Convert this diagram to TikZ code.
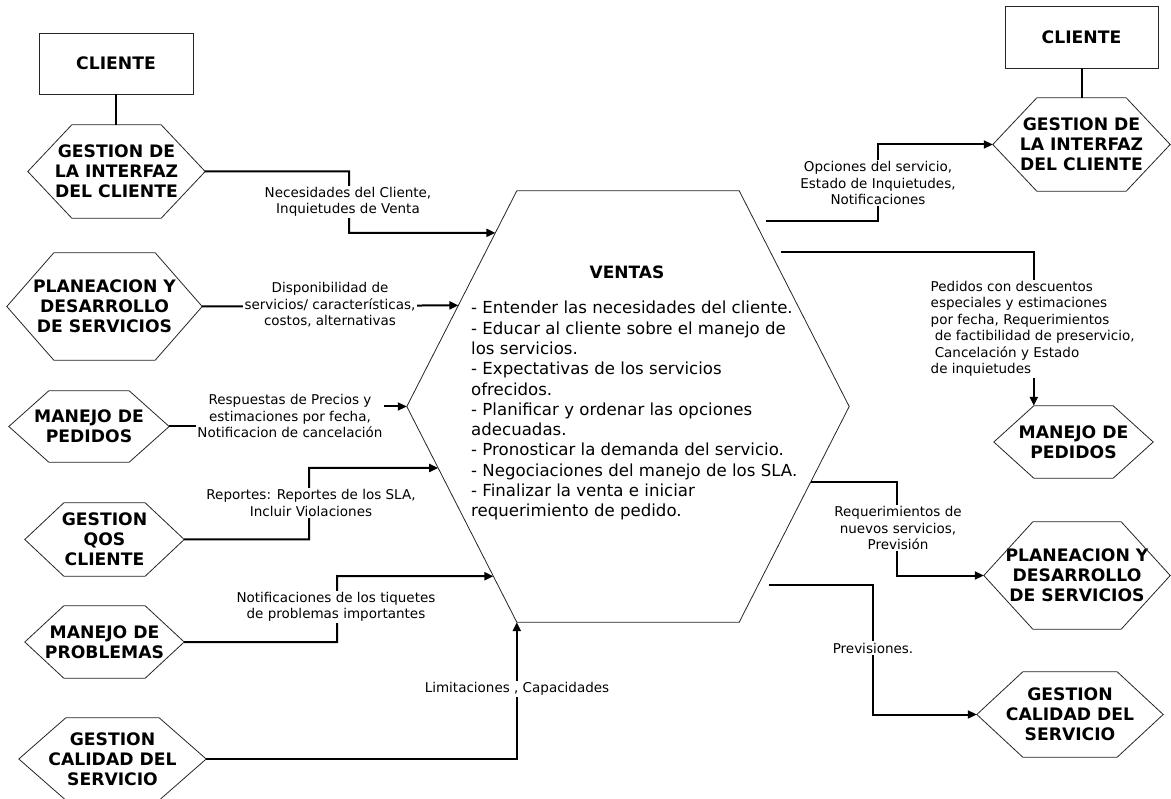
\documentclass[tikz,border=0pt]{standalone}
\usepackage{fontspec}
\setmainfont{DejaVu Sans}
\usetikzlibrary{arrows.meta,calc}
\tikzset{
  hexline/.style={draw=black!85, line width=0.8pt},
  hexlabel/.style={inner sep=0pt, align=center, font=\bfseries\fontsize{17.2}{20}\selectfont},
  boxnode/.style={draw=black!85, line width=0.9pt, inner sep=0pt, font=\bfseries\fontsize{17.2}{20}\selectfont},
  conn/.style={line width=2pt, -{Triangle[length=9pt,width=8pt]}},
  plain/.style={line width=2pt},
  elabel/.style={fill=white, inner sep=1.5pt, align=center, font=\fontsize{13.5}{16.5}\selectfont},
}
\newcommand\hexbox[7]{%
  \node[hexlabel, minimum width={(#4-#2)*1pt}, minimum height={(#5-#3)*1pt}] (#1) at ({(#2+#4)/2},{(#3+#5)/2}) {#7};
  \draw[hexline] (#1.west) -- ([xshift=#6pt]#1.north west) -- ([xshift=-#6pt]#1.north east) -- (#1.east) -- ([xshift=-#6pt]#1.south east) -- ([xshift=#6pt]#1.south west) -- cycle;
}
\begin{document}
\begin{tikzpicture}[x=1pt,y=-1pt]
\useasboundingbox[fill=white] (0,0) rectangle (1171,799);

% left column
\node[boxnode, minimum width=154pt, minimum height=61pt] (cliL) at (116,63.5) {CLIENTE};
\hexbox{gdl}{28}{125}{205}{218}{44}{GESTION DE\\LA INTERFAZ\\DEL CLIENTE}
\hexbox{pdl}{7}{253}{202}{360}{47}{PLANEACION Y\\DESARROLLO\\DE SERVICIOS}
\hexbox{mpl}{9}{391}{169}{462}{40}{MANEJO DE\\PEDIDOS}
\hexbox{qos}{25}{503}{184}{576}{39}{GESTION\\QOS\\CLIENTE}
\hexbox{mprob}{25}{606}{184}{678}{39}{MANEJO DE\\PROBLEMAS}
\hexbox{gcl}{19}{718}{206}{800}{47}{GESTION\\CALIDAD DEL\\SERVICIO}

% central
\hexbox{V}{407}{191}{849}{622}{110}{}
\coordinate (vW) at (V.west);
\coordinate (vE) at (V.east);
\coordinate (vNW) at ([xshift=110pt]V.north west);
\coordinate (vNE) at ([xshift=-110pt]V.north east);
\coordinate (vSW) at ([xshift=110pt]V.south west);
\coordinate (vSE) at ([xshift=-110pt]V.south east);
\node[font=\bfseries\fontsize{17}{20}\selectfont] (vtitle) at (627,272) {VENTAS};
\node[anchor=north west, inner sep=0pt, align=left, font=\fontsize{16.6}{20.3}\selectfont] (vbody) at (471,301) {%
- Entender las necesidades del cliente.\\
- Educar al cliente sobre el manejo de\\
los servicios.\\
- Expectativas de los servicios\\
ofrecidos.\\
- Planificar y ordenar las opciones\\
adecuadas.\\
- Pronosticar la demanda del servicio.\\
- Negociaciones del manejo de los SLA.\\
- Finalizar la venta e iniciar\\
requerimiento de pedido.};

% right column
\node[boxnode, minimum width=153pt, minimum height=62pt] (cliR) at (1081.5,37) {CLIENTE};
\hexbox{gdr}{993}{98}{1170}{191}{44}{GESTION DE\\LA INTERFAZ\\DEL CLIENTE}
\hexbox{mpr}{994}{406}{1153}{478}{40}{MANEJO DE\\PEDIDOS}
\hexbox{pdr}{984}{522}{1170}{629}{49}{PLANEACION Y\\DESARROLLO\\DE SERVICIOS}
\hexbox{gcr}{977}{672}{1163}{757}{46}{GESTION\\CALIDAD DEL\\SERVICIO}

% client links
\draw[plain] (cliL.south) -- (cliL.south |- gdl.north);
\draw[plain] (cliR.south) -- (cliR.south |- gdr.north);

% left connectors
\draw[conn] (gdl.east) -| (349,233) -- ($(vW)!0.805!(vNW)$);
\node[elabel] (l1) at (348,202) {Necesidades del Cliente,\\Inquietudes de Venta};

\draw[conn] (pdl.east) -- ($(vW)!0.469!(vNW)$);
\node[elabel] (l2) at (330,305) {Disponibilidad de\\servicios/ características,\\costos, alternativas};

\draw[conn] (mpl.east) -| (290,406.5) -- (vW);
\node[elabel] (l3) at (290,416) {Respuestas de Precios y\\estimaciones por fecha,\\Notificacion de cancelación};

\draw[conn] (qos.east) -| (309,468) -- ($(vW)!0.285!(vSW)$);
\node[elabel] (l4) at (311,503) {Reportes: Reportes de los SLA,\\Incluir Violaciones};

\draw[conn] (mprob.east) -| (337,576) -- ($(vW)!0.787!(vSW)$);
\node[elabel] (l5) at (336,607) {Notificaciones de los tiquetes\\de problemas importantes};

\draw[conn] (gcl.east) -| (vSW);
\node[elabel] (l6) at (517,689) {Limitaciones , Capacidades};

% right connectors
\coordinate (s7) at (766,221);
\coordinate (s8) at (781,252);
\coordinate (s9) at ($(vE)!0.350!(vSE)$);
\coordinate (s10) at (769,585);

\draw[conn] (s7) -| (878,144.5) -- (gdr.west);
\node[elabel] (r1) at (878,183) {Opciones del servicio,\\Estado de Inquietudes,\\Notificaciones};

\draw[conn] (s8) -| ([xshift=40pt]mpr.north west);
\node[elabel, align=left, anchor=west] (r2) at (929,329) {Pedidos con descuentos\\especiales y estimaciones\\por fecha, Requerimientos\\\hspace*{0.3em}de factibilidad de preservicio,\\\hspace*{0.3em}Cancelación y Estado\\de inquietudes};

\draw[conn] (s9) -| (897,575.5) -- (pdr.west);
\node[elabel] (r3) at (898,528) {Requerimientos de\\nuevos servicios,\\Previsión};

\draw[conn] (s10) -| (873,714.5) -- (gcr.west);
\node[elabel] (r4) at (873,648) {Previsiones.};
\end{tikzpicture}
\end{document}
